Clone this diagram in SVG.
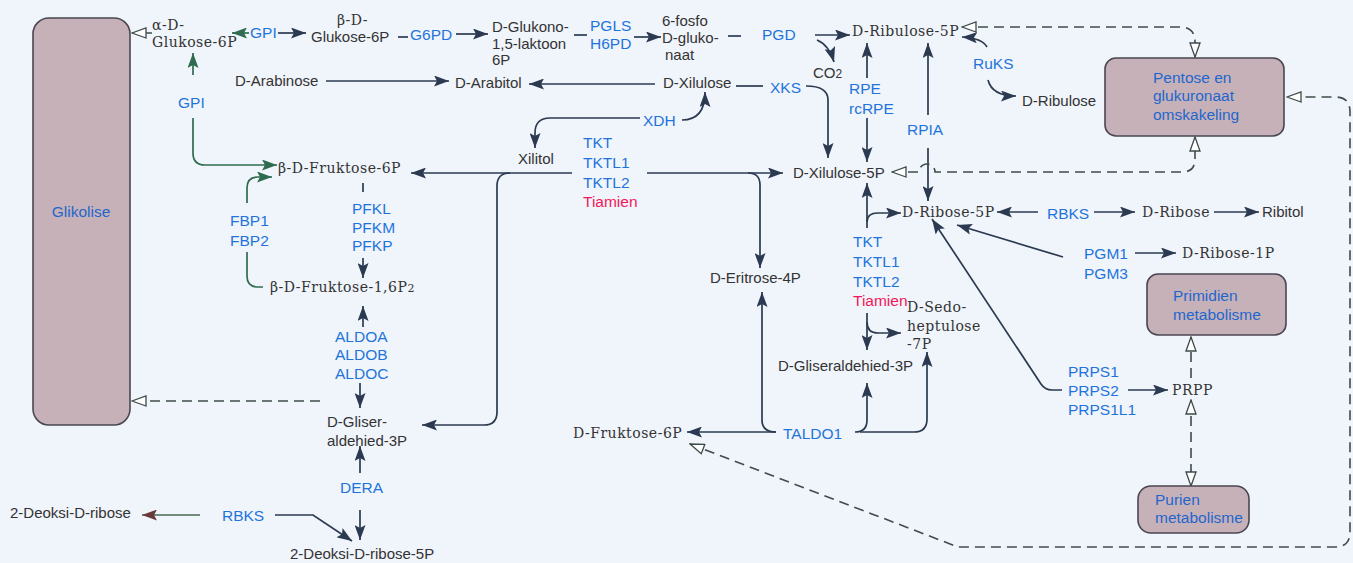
<svg xmlns="http://www.w3.org/2000/svg" width="1353" height="563" viewBox="0 0 1353 563">
<style>
.m{font-family:"Liberation Sans",Arial,sans-serif;font-size:15px;fill:#333333}
.s{font-family:"DejaVu Serif","Liberation Serif",serif;font-size:14px;fill:#333333;letter-spacing:0.5px}
.e{font-family:"Liberation Sans",Arial,sans-serif;font-size:15.5px;fill:#1f74dc}
.r{font-family:"Liberation Sans",Arial,sans-serif;font-size:15.5px;fill:#f0185a}
.bt{font-family:"Liberation Sans",Arial,sans-serif;font-size:15.5px;fill:#1f66cc}
.box{fill:#c7b1b9;stroke:#4a4650;stroke-width:1.6}
.c{fill:none;stroke:#2b3a50;stroke-width:1.7}
.cg{fill:none;stroke:#2e6b4f;stroke-width:1.7}
.cb{fill:none;stroke:#4a6a50;stroke-width:1.7}
.d{fill:none;stroke:#3f4d4a;stroke-width:1.6;stroke-dasharray:10 6}
</style>
<defs>
<marker id="a" viewBox="0 0 15 11" refX="15" refY="5.5" markerWidth="15" markerHeight="11" markerUnits="userSpaceOnUse" orient="auto-start-reverse"><path d="M0,0 L15,5.5 L0,11 L3,5.5 z" fill="#2b3a50"/></marker>
<marker id="g" viewBox="0 0 15 11" refX="15" refY="5.5" markerWidth="15" markerHeight="11" markerUnits="userSpaceOnUse" orient="auto-start-reverse"><path d="M0,0 L15,5.5 L0,11 L3,5.5 z" fill="#2e6b4f"/></marker>
<marker id="b" viewBox="0 0 15 11" refX="15" refY="5.5" markerWidth="15" markerHeight="11" markerUnits="userSpaceOnUse" orient="auto-start-reverse"><path d="M0,0 L15,5.5 L0,11 L3,5.5 z" fill="#6a3a3a"/></marker>
<marker id="o" viewBox="0 0 16 12" refX="15" refY="6" markerWidth="16" markerHeight="12" markerUnits="userSpaceOnUse" orient="auto-start-reverse"><path d="M1,1 L15,6 L1,11 z" fill="#ffffff" stroke="#3d4a48" stroke-width="1.3"/></marker>
</defs>
<rect x="0" y="0" width="1353" height="563" fill="#f0f4fb"/>

<g id="connectors">
<path class="d" d="M152,33 H132" marker-end="url(#o)"/>
<path class="cg" d="M249,33 H232" marker-end="url(#g)"/>
<path class="c" d="M278,33 H306" marker-end="url(#a)"/>
<path class="c" d="M398,37 H408"/>
<path class="c" d="M456,34 H488" marker-end="url(#a)"/>
<path class="c" d="M574,35 H587"/>
<path class="c" d="M634,37 H661" marker-end="url(#a)"/>
<path class="c" d="M728,36 H741"/>
<path class="c" d="M815,35 H850" marker-end="url(#a)"/>
<path class="c" d="M817,40 Q829,45 834,62" marker-end="url(#a)"/>
<path class="d" d="M962,27 H1180 Q1195,27 1195,42 V57" marker-start="url(#o)" marker-end="url(#o)"/>
<path class="c" d="M987,47 Q982,38 962,37" marker-end="url(#a)"/>
<path class="c" d="M988,80 Q992,96 1016,96" marker-end="url(#a)"/>
<path class="c" d="M867,78 V43" marker-end="url(#a)"/>
<path class="c" d="M867,118 V162" marker-end="url(#a)"/>
<path class="c" d="M928,115 V43" marker-end="url(#a)"/>
<path class="c" d="M928,148 V201" marker-end="url(#a)"/>
<path class="c" d="M326,81 H449" marker-end="url(#a)"/>
<path class="c" d="M655,84 H529" marker-end="url(#a)"/>
<path class="c" d="M736,86 H763"/>
<path class="c" d="M806,86 Q828,86 828,100 V158" marker-end="url(#a)"/>
<path class="c" d="M682,120 Q705,120 705,92" marker-end="url(#a)"/>
<path class="c" d="M640,118 H550 Q535,118 535,133 V148" marker-end="url(#a)"/>
<path class="c" d="M572,173 H411" marker-end="url(#a)"/>
<path class="c" d="M510,173 Q497,173 497,186 V412 Q497,425 484,425 H422" marker-end="url(#a)"/>
<path class="c" d="M647,173 H783" marker-end="url(#a)"/>
<path class="c" d="M748,173 Q760,173 760,185 V268" marker-end="url(#a)"/>
<path class="c" d="M776,432 Q762,432 762,420 V292" marker-end="url(#a)"/>
<path class="c" d="M776,432 H687" marker-end="url(#a)"/>
<path class="c" d="M855,432 Q867,432 867,420 V383" marker-end="url(#a)"/>
<path class="c" d="M860,432 H914 Q927,432 927,419 V352" marker-end="url(#a)"/>
<path class="c" d="M867,228 V183" marker-end="url(#a)"/>
<path class="c" d="M867,222 Q867,213 878,213 H901" marker-end="url(#a)"/>
<path class="c" d="M867,313 V350" marker-end="url(#a)"/>
<path class="c" d="M867,322 Q867,333 878,333 H901" marker-end="url(#a)"/>
<path class="d" d="M892,172 H919 A8,8 0 0 1 935,172 H1182 Q1195,172 1195,159 V137" marker-start="url(#o)" marker-end="url(#o)"/>
<path class="c" d="M1038,212 H997" marker-end="url(#a)"/>
<path class="c" d="M1094,212 H1135" marker-end="url(#a)"/>
<path class="c" d="M1214,212 H1259" marker-end="url(#a)"/>
<path class="c" d="M1135,253 H1176" marker-end="url(#a)"/>
<path class="c" d="M1063,257 L957,225" marker-end="url(#a)"/>
<path class="c" d="M1062,390 H1052 Q1045,390 1041,384 L932,219" marker-end="url(#a)"/>
<path class="c" d="M1128,390 H1168" marker-end="url(#a)"/>
<path class="d" d="M1191,378 V337" marker-end="url(#o)"/>
<path class="d" d="M1191,400 V486" marker-start="url(#o)" marker-end="url(#o)"/>
<path class="d" d="M690,444 L958,547 H1335 Q1350,547 1350,532 V112 Q1350,97 1335,97 H1287" marker-start="url(#o)" marker-end="url(#o)"/>
<path class="d" d="M320,401 H132" marker-end="url(#o)"/>
<path class="c" d="M360,383 V408" marker-end="url(#a)"/>
<path class="c" d="M360,473 V446" marker-end="url(#a)"/>
<path class="c" d="M360,510 V540" marker-end="url(#a)"/>
<path class="cb" d="M200,515 H142" marker-end="url(#b)"/>
<path class="c" d="M275,515 H313 L352,541" marker-end="url(#a)"/>
<path class="cg" d="M193,75 V53" marker-end="url(#g)"/>
<path class="cg" d="M193,118 V153 Q193,165 205,165 H277" marker-end="url(#g)"/>
<path class="cg" d="M247,203 V188 Q247,177 258,177 H272" marker-end="url(#g)"/>
<path class="cg" d="M247,252 V276 Q247,287 258,287 H263"/>
<path class="c" d="M363,183 V192"/>
<path class="c" d="M363,258 V278" marker-end="url(#a)"/>
<path class="c" d="M363,327 V306" marker-end="url(#a)"/>
</g>

<g id="glikolise"><rect class="box" x="33" y="18" width="97" height="407" rx="16"/><text class="bt" x="81" y="217" text-anchor="middle">Glikolise</text></g>
<g id="pentose"><rect class="box" x="1105" y="58" width="179" height="78" rx="11"/><text class="bt" x="1153" y="83">Pentose en</text><text class="bt" x="1153" y="101">glukuronaat</text><text class="bt" x="1153" y="120">omskakeling</text></g>
<g id="primidien"><rect class="box" x="1147" y="274" width="139" height="61" rx="11"/><text class="bt" x="1173" y="301">Primidien</text><text class="bt" x="1173" y="320">metabolisme</text></g>
<g id="purien"><rect class="box" x="1138" y="486" width="111" height="47" rx="13"/><text class="bt" x="1155" y="505">Purien</text><text class="bt" x="1155" y="523">metabolisme</text></g>

<g id="a-glukose-6p"><text class="s" x="152" y="30">α-D-</text><text class="s" x="152" y="47" font-size="13" letter-spacing="0">Glukose-6P</text></g>
<g id="b-glukose-6p"><text class="s" x="337" y="25">β-D-</text><text class="m" x="311" y="42">Glukose-6P</text></g>
<g id="glukono-laktoon"><text class="m" x="492" y="32">D-Glukono-</text><text class="m" x="492" y="49">1,5-laktoon</text><text class="m" x="492" y="65">6P</text></g>
<g id="fosfoglukonaat"><text class="m" x="662" y="26">6-fosfo</text><text class="m" x="662" y="43">D-gluko-</text><text class="m" x="665" y="60">naat</text></g>
<g id="ribulose-5p"><text class="s" x="852" y="36">D-Ribulose-5P</text></g>
<g id="co2"><text class="m" x="813" y="78">CO<tspan font-size="12">2</tspan></text></g>
<g id="ribulose"><text class="m" x="1022" y="106">D-Ribulose</text></g>
<g id="arabinose"><text class="m" x="235" y="86">D-Arabinose</text></g>
<g id="arabitol"><text class="m" x="455" y="88">D-Arabitol</text></g>
<g id="xilulose"><text class="m" x="663" y="88">D-Xilulose</text></g>
<g id="xilitol"><text class="m" x="518" y="164">Xilitol</text></g>
<g id="xilulose-5p"><text class="m" x="793" y="178">D-Xilulose-5P</text></g>
<g id="fruktose-6p-b"><text class="s" x="278" y="173">β-D-Fruktose-6P</text></g>
<g id="fruktose-16p2"><text class="s" x="270" y="292">β-D-Fruktose-1,6P<tspan font-size="11">2</tspan></text></g>
<g id="gliseraldehied-3p-left"><text class="m" x="327" y="427">D-Gliser-</text><text class="m" x="327" y="446">aldehied-3P</text></g>
<g id="deoksiribose"><text class="m" x="10" y="518">2-Deoksi-D-ribose</text></g>
<g id="deoksiribose-5p"><text class="m" x="290" y="559">2-Deoksi-D-ribose-5P</text></g>
<g id="eritrose-4p"><text class="m" x="710" y="283">D-Eritrose-4P</text></g>
<g id="gliseraldehied-3p"><text class="m" x="778" y="371">D-Gliseraldehied-3P</text></g>
<g id="sedoheptulose"><text class="s" x="907" y="312">D-Sedo-</text><text class="s" x="907" y="331">heptulose</text><text class="s" x="907" y="349">-7P</text></g>
<g id="fruktose-6p-d"><text class="s" x="573" y="438" letter-spacing="0.2">D-Fruktose-6P</text></g>
<g id="ribose-5p"><text class="s" x="902" y="217">D-Ribose-5P</text></g>
<g id="ribose"><text class="s" x="1142" y="217">D-Ribose</text></g>
<g id="ribitol"><text class="m" x="1262" y="217">Ribitol</text></g>
<g id="ribose-1p"><text class="s" x="1182" y="258">D-Ribose-1P</text></g>
<g id="prpp"><text class="s" x="1172" y="395">PRPP</text></g>

<g id="enz-gpi-top"><text class="e" x="250" y="38">GPI</text></g>
<g id="enz-g6pd"><text class="e" x="410" y="40">G6PD</text></g>
<g id="enz-pgls"><text class="e" x="590" y="31">PGLS</text><text class="e" x="590" y="49">H6PD</text></g>
<g id="enz-pgd"><text class="e" x="762" y="40">PGD</text></g>
<g id="enz-xks"><text class="e" x="770" y="93">XKS</text></g>
<g id="enz-xdh"><text class="e" x="643" y="126">XDH</text></g>
<g id="enz-rpe"><text class="e" x="849" y="94">RPE</text><text class="e" x="849" y="114">rcRPE</text></g>
<g id="enz-rpia"><text class="e" x="907" y="135">RPIA</text></g>
<g id="enz-ruks"><text class="e" x="973" y="69">RuKS</text></g>
<g id="enz-tkt1"><text class="e" x="583" y="148">TKT</text><text class="e" x="583" y="168">TKTL1</text><text class="e" x="583" y="188">TKTL2</text><text class="r" x="583" y="207">Tiamien</text></g>
<g id="enz-gpi-left"><text class="e" x="178" y="108">GPI</text></g>
<g id="enz-fbp"><text class="e" x="230" y="226">FBP1</text><text class="e" x="230" y="246">FBP2</text></g>
<g id="enz-pfk"><text class="e" x="352" y="214">PFKL</text><text class="e" x="352" y="233">PFKM</text><text class="e" x="352" y="251">PFKP</text></g>
<g id="enz-aldo"><text class="e" x="335" y="342">ALDOA</text><text class="e" x="335" y="360">ALDOB</text><text class="e" x="335" y="379">ALDOC</text></g>
<g id="enz-dera"><text class="e" x="340" y="493">DERA</text></g>
<g id="enz-rbks-bottom"><text class="e" x="222" y="521">RBKS</text></g>
<g id="enz-taldo1"><text class="e" x="783" y="439">TALDO1</text></g>
<g id="enz-tkt2"><text class="e" x="853" y="247">TKT</text><text class="e" x="853" y="267">TKTL1</text><text class="e" x="853" y="287">TKTL2</text><text class="r" x="853" y="306">Tiamien</text></g>
<g id="enz-rbks"><text class="e" x="1047" y="219">RBKS</text></g>
<g id="enz-pgm"><text class="e" x="1084" y="259">PGM1</text><text class="e" x="1084" y="279">PGM3</text></g>
<g id="enz-prps"><text class="e" x="1068" y="377">PRPS1</text><text class="e" x="1068" y="396">PRPS2</text><text class="e" x="1068" y="415">PRPS1L1</text></g>
</svg>
